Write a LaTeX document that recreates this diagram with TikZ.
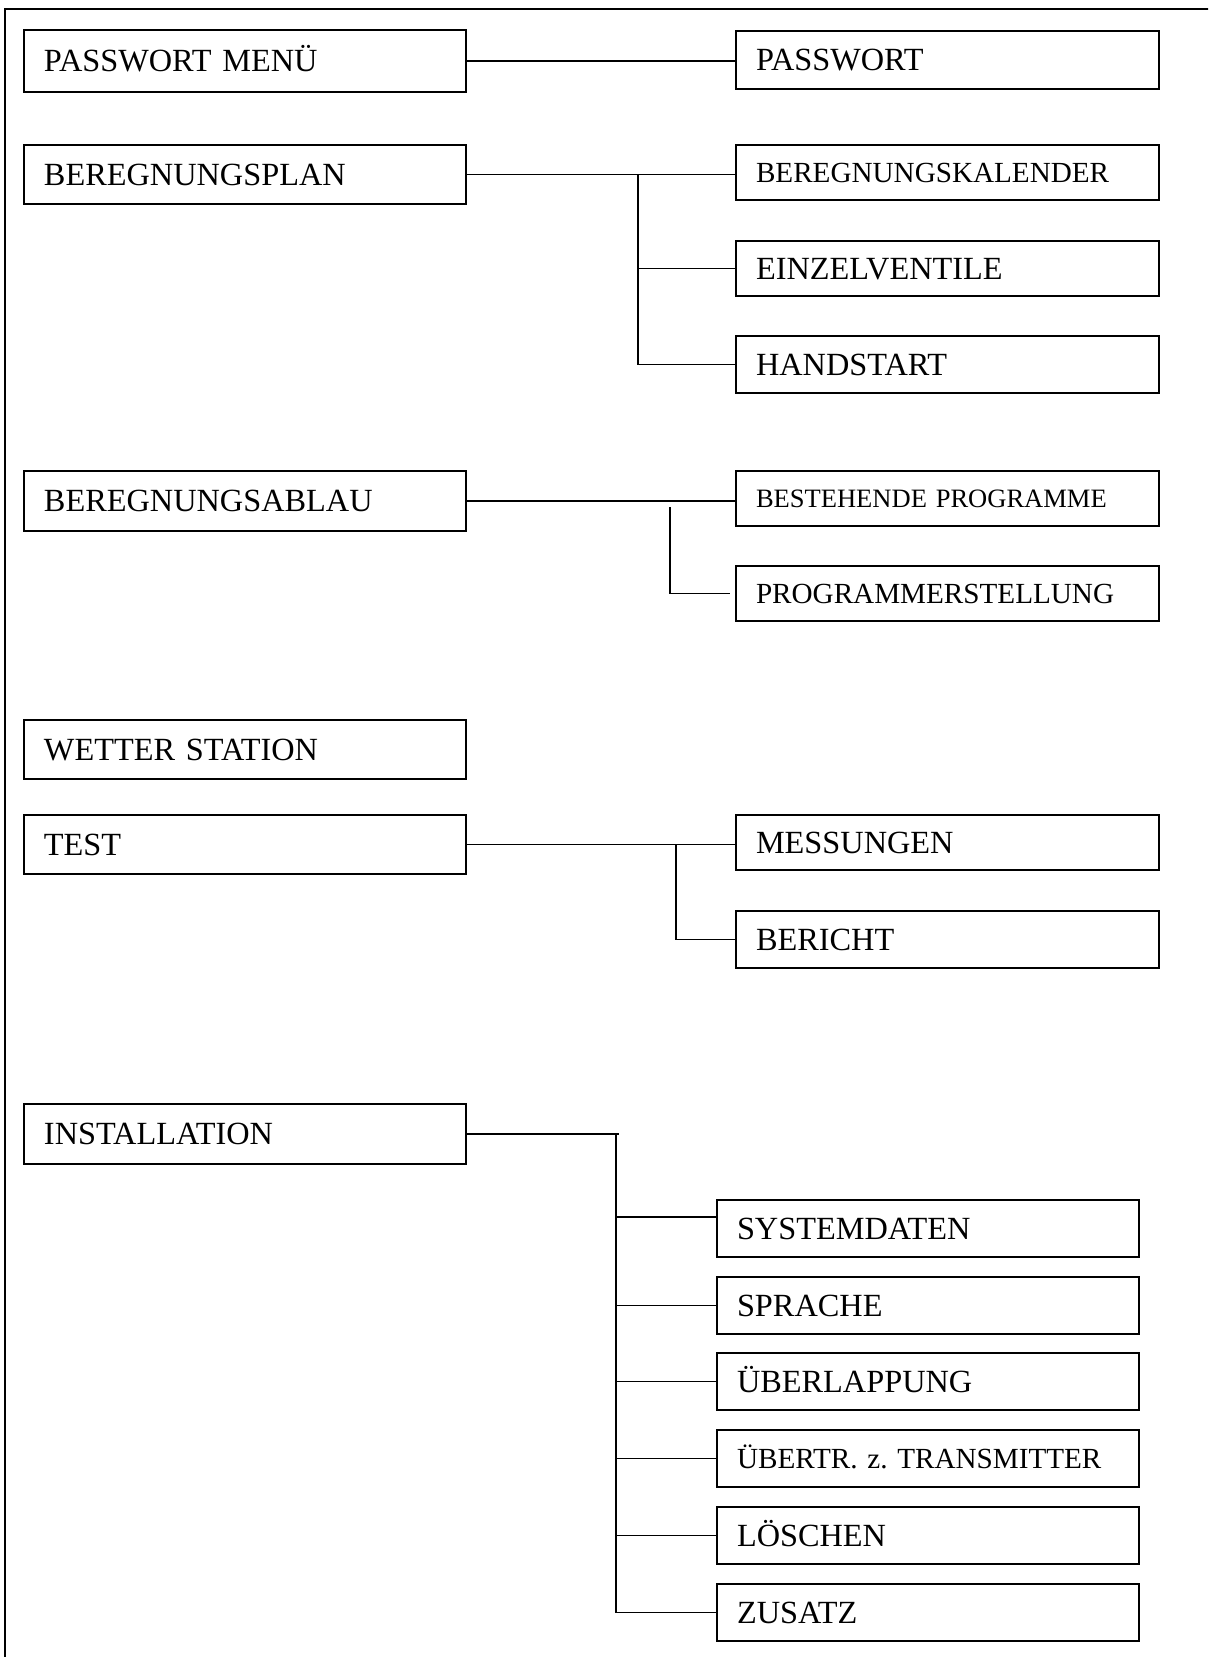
\documentclass[tikz,border=0pt]{standalone}
\usepackage{fontspec}
\setmainfont{Liberation Serif}
\usetikzlibrary{calc}
\frenchspacing

% box: name, x1, y1, x2, y2, text style, label
\newcommand\menubox[7]{%
  \pgfmathsetmacro\mbw{(#4-#2)*0.02}%
  \pgfmathsetmacro\mbh{(#5-#3)*0.02}%
  \pgfmathsetmacro\mbt{(#4-#2)*0.02-0.8}%
  \node[menu,#6,minimum width=\mbw cm,minimum height=\mbh cm,text width=\mbt cm]
    (#1) at ({(#2+#4)/2},{(#3+#5)/2}) {#7};}

\begin{document}
\begin{tikzpicture}[x=0.02cm,y=-0.02cm,
  menu/.style={draw, line width=0.9pt, rectangle, inner xsep=0.4cm, inner ysep=0pt, align=left},
  big/.style={font=\fontsize{18.4}{20}\selectfont, text height=12.2pt, text depth=0pt},
  mid/.style={font=\fontsize{16.6}{18}\selectfont, text height=11pt, text depth=0pt},
  small/.style={font=\fontsize{15.1}{17}\selectfont, text height=10pt, text depth=0pt},
  link/.style={line width=0.85pt}]

\useasboundingbox (0,0) rectangle (1208,1657);
\begin{scope}
  \clip (0,0) rectangle (1208,1657);
  \draw[line width=1.1pt] (5,9) rectangle (1240,1690);
\end{scope}

% main menu
\menubox{pm}{24}{30}{466}{92}{big}{PASSWORT MENÜ}
\menubox{bp}{24}{145}{466}{204}{big}{BEREGNUNGSPLAN}
\menubox{ba}{24}{471}{466}{531}{big}{BEREGNUNGSABLAU}
\menubox{ws}{24}{720}{466}{779}{big}{WETTER STATION}
\menubox{ts}{24}{815}{466}{874}{big}{TEST}
\menubox{inst}{24}{1104}{466}{1164}{big}{INSTALLATION}

% sub menus
\menubox{pw}{736}{31}{1159}{89}{big}{PASSWORT}
\menubox{bk}{736}{145}{1159}{200}{mid}{BEREGNUNGSKALENDER}
\menubox{ev}{736}{241}{1159}{296}{big}{EINZELVENTILE}
\menubox{hs}{736}{336}{1159}{393}{big}{HANDSTART}
\menubox{bpr}{736}{471}{1159}{526}{small}{BESTEHENDE PROGRAMME}
\menubox{pe}{736}{566}{1159}{621}{mid}{PROGRAMMERSTELLUNG}
\menubox{ms}{736}{815}{1159}{870}{big}{MESSUNGEN}
\menubox{br}{736}{911}{1159}{968}{big}{BERICHT}

\menubox{sd}{717}{1200}{1139}{1257}{big}{SYSTEMDATEN}
\menubox{sp}{717}{1277}{1139}{1334}{big}{SPRACHE}
\menubox{ue}{717}{1353}{1139}{1410}{big}{ÜBERLAPPUNG}
\menubox{ut}{717}{1430}{1139}{1487}{mid}{ÜBERTR. z. TRANSMITTER}
\menubox{lo}{717}{1507}{1139}{1564}{big}{LÖSCHEN}
\menubox{zu}{717}{1584}{1139}{1641}{big}{ZUSATZ}

% junction columns
\coordinate (jbp) at (638,0);
\coordinate (jba) at (670,0);
\coordinate (jts) at (676,0);
\coordinate (jin) at (616,0);
\coordinate (jinr) at (619,0);
\coordinate (sdin) at ($(sd.north west)!0.3!(sd.south west)$);

% connectors
\draw[link] (pm.east) -- (pm.east -| pw.west);

\draw[link] (bp.east) -- (bp.east -| bk.west);
\draw[link] (jbp |- bp.east) -- (jbp |- hs.west) -- (hs.west);
\draw[link] (jbp |- ev.west) -- (ev.west);

\draw[link] (ba.east) -- (ba.east -| bpr.west);
\draw[link] (jba |- ba.east) ++(0,6) -- (jba |- pe.west) -- ([xshift=-3pt]pe.west);

\draw[link] (ts.east) -- (ts.east -| ms.west);
\draw[link] (jts |- ts.east) -- (jts |- br.west) -- (br.west);

\draw[link] (inst.east) -- (jinr |- inst.east);
\draw[link] (jin |- inst.east) -- (jin |- zu.west) -- (zu.west);
\draw[link] (jin |- sdin) -- (sdin);
\foreach \b in {sp,ue,ut,lo}
  \draw[link] (jin |- \b.west) -- (\b.west);

\end{tikzpicture}
\end{document}
